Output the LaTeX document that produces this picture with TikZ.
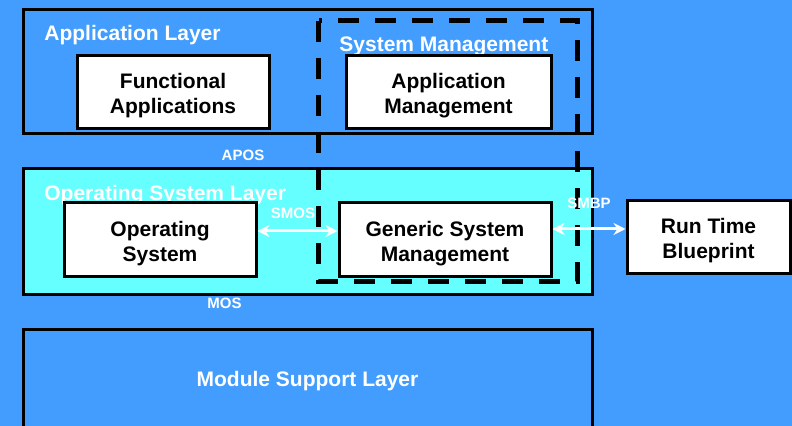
\documentclass[tikz,border=0pt]{standalone}
\usepackage{fontspec}
\setmainfont{Liberation Sans}
\usepackage{xcolor}
\usepackage{tikz}
\usetikzlibrary{positioning,arrows.meta}

\definecolor{SlideBlue}{RGB}{66,157,255}
\definecolor{LayerCyan}{RGB}{102,255,255}

\newcommand{\blocktext}[1]{\raisebox{-2pt}[\height][\depth]{\begin{tabular}{@{}c@{}}#1\end{tabular}}}

\begin{document}
\begin{tikzpicture}[
		x=0.5pt,y=-0.5pt,
		>={Stealth[length=6pt,width=6pt]},
		layer/.style={
			draw=black,
			line width=1.5pt,
			rectangle,
			inner sep=0pt,
			minimum width=284.5pt
		},
		block/.style={
			draw=black,
			line width=1.5pt,
			fill=white,
			rectangle,
			inner sep=0pt,
			font=\fontsize{10.5}{12.5}\selectfont\bfseries
		},
		title/.style={
			text=white,
			anchor=west,
			inner sep=0pt,
			font=\fontsize{10.5}{12.5}\selectfont\bfseries
		},
		boundary/.style={
			draw=black,
			line width=2.5pt,
			dash pattern=on 10.5pt off 8pt
		},
		iface/.style={
			<->,
			draw=white,
			line width=1.5pt
		},
		tag/.style={
			text=white,
			inner sep=0pt,
			font=\fontsize{7.5}{9}\selectfont\bfseries
		}
		]
		% Background
		\fill[SlideBlue] (0,0) rectangle (792,426);
		\useasboundingbox (0,0) rectangle (792,426);
		
		% Layers
		\node[layer, fill=SlideBlue, minimum height=62pt] (applayer) at (307.5,72) {};
		\node[layer, fill=LayerCyan, minimum height=63pt] (oslayer) at (307.5,232) {};
		\node[layer, fill=SlideBlue, minimum height=51pt, text=white,
			font=\fontsize{10.5}{12.5}\selectfont\bfseries] (msl) at (307.5,381)
			{\raisebox{2pt}{Module Support Layer}};
		
		% Layer titles
		\node[title] (apptitle) at (44,35) {Application Layer};
		\node[title] (ostitle) at (44,195) {Operating System Layer};
		\node[title] (smtitle) at (339,46) {System Management};
		
		% Blocks
		\node[block, minimum width=96pt, minimum height=36.5pt] (funcapp) at (173,92.5) {\blocktext{Functional\\Applications}};
		\node[block, minimum width=102.5pt, minimum height=36.5pt] (appmgmt) at (448.5,92.5) {\blocktext{Application\\Management}};
		\node[block, minimum width=96pt, minimum height=37pt] (opsys) at (160,240) {\blocktext{Operating\\System}};
		\node[block, minimum width=106pt, minimum height=37pt] (gsm) at (445,240) {\blocktext{Generic System\\Management}};
		\node[block, minimum width=81.5pt, minimum height=36.5pt] (rtb) at (708.5,237.5) {\blocktext{Run Time\\Blueprint}};
		
		% System management boundary
		\node[inner sep=0pt, minimum width=129pt, minimum height=130pt] (sysmgmt) at (448,151) {};
		\draw[boundary] (sysmgmt.north west) rectangle (sysmgmt.south east);
		
		% Interfaces
		\draw[iface] ([yshift=4.5pt]opsys.east) -- ([yshift=4.5pt]gsm.west);
		\draw[iface] ([yshift=5.5pt]gsm.east) -- ([yshift=4.25pt]rtb.west);
		\node[tag] (smos) at (293,213) {SMOS};
		\node[tag] (smbp) at (589,203) {SMBP};
		\node[tag] (apos) at (243,155) {APOS};
		\node[tag] (mos) at (224.5,303) {MOS};
	\end{tikzpicture}
\end{document}
